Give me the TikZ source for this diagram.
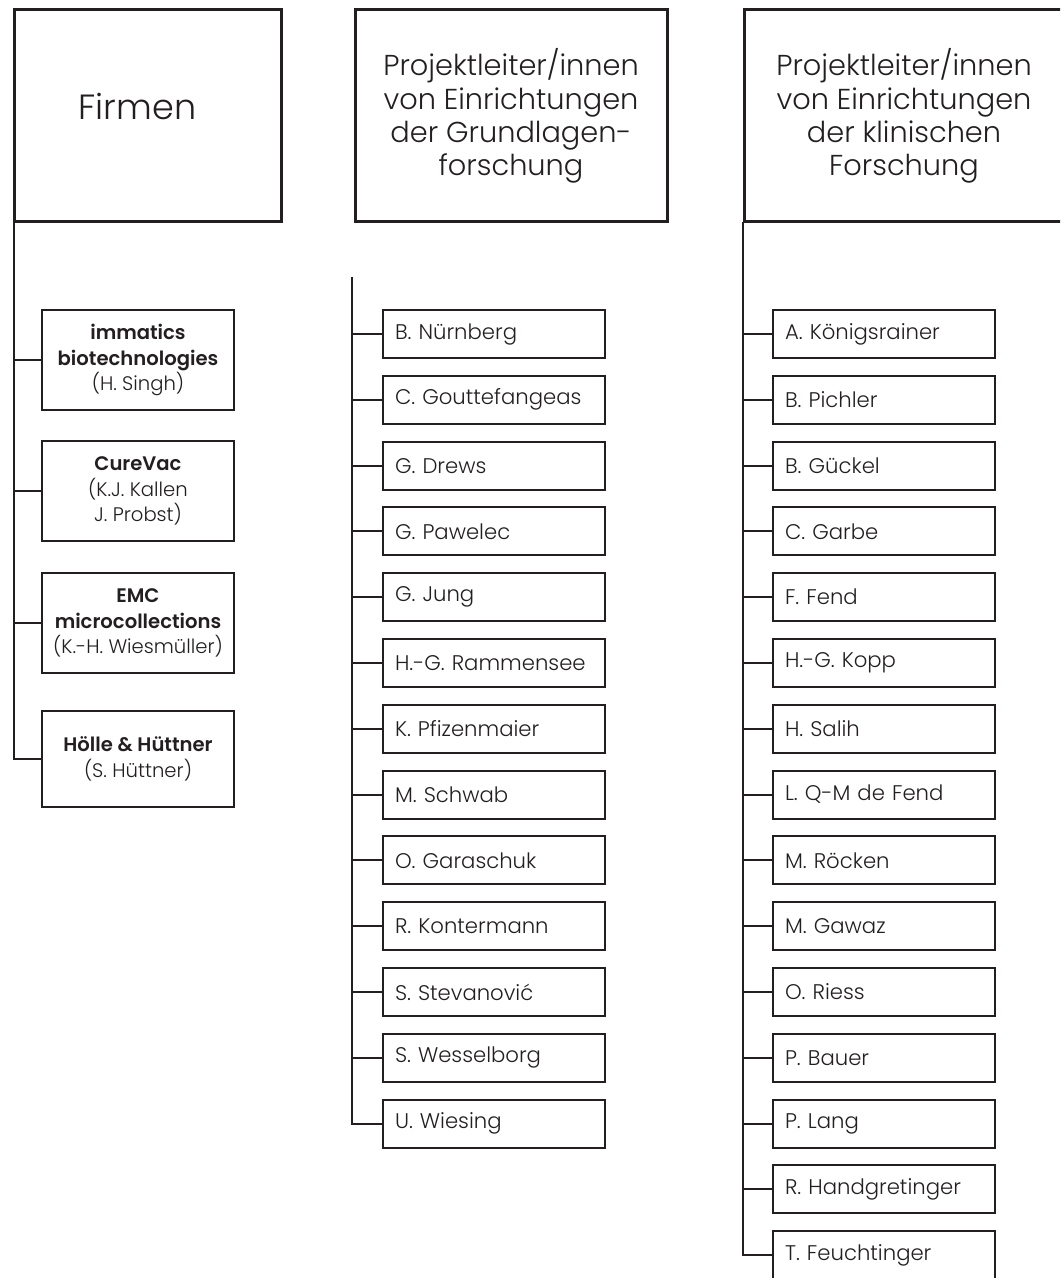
\documentclass[tikz,border=0pt]{standalone}
\usepackage{fontspec}
\setmainfont{Poppins}[UprightFont=* Light,BoldFont=* SemiBold]
\usepackage{xcolor}
\usepackage{tikz}
\usetikzlibrary{positioning}
\definecolor{ink}{HTML}{231F20}

\begin{document}
\begin{tikzpicture}[x=0.5pt,y=-0.5pt,node distance=8.9pt,every node/.style={text=ink,outer sep=0pt}]
  \tikzstyle{head}=[draw=ink,line width=1.5pt,anchor=north west,align=center,minimum height=106pt,inner sep=0pt,font=\fontsize{14.4}{16.6}\selectfont]
  \tikzstyle{firm}=[draw=ink,line width=1pt,align=center,minimum width=96pt,minimum height=50pt,inner sep=0pt,font=\fontsize{9.8}{12.75}\selectfont]
  \tikzstyle{person}=[draw=ink,line width=1pt,minimum width=111pt,minimum height=24pt,text width=99pt,inner xsep=6pt,inner ysep=0pt,align=left,font=\fontsize{10.6}{12}\selectfont]
  \tikzstyle{link}=[draw=ink,line width=1pt]
  \useasboundingbox (0,0) rectangle (1060,1278);
  \clip (0,0) rectangle (1060,1278);
  \fill[white] (0,0) rectangle (1060,1278);

  % headers
  \node[head,minimum width=133.5pt,font=\fontsize{17.5}{20}\selectfont] (firmen) at (14,10) {\raisebox{10pt}{Firmen}\hspace*{10pt}};
  \node[head,minimum width=156pt] (grund) at (355,10) {Projektleiter/innen\\von Einrichtungen\\der Grundlagen-\\forschung};
  \node[head,minimum width=160pt] (klinik) at (744,10) {Projektleiter/innen\\von Einrichtungen\\der klinischen\\Forschung};

  % firms
  \node[firm,anchor=north west] (immatics) at (42,310) {\textbf{immatics}\\\textbf{biotechnologies}\\(H. Singh)};
  \node[firm,below=15.5pt of immatics] (curevac) {\textbf{CureVac}\\(K.J. Kallen\\J. Probst)};
  \node[firm,below=16pt of curevac] (emc) {\textbf{EMC}\\\textbf{microcollections}\\(K.-H. Wiesmüller)};
  \node[firm,below=19pt of emc,minimum height=48pt] (hoelle) {\textbf{Hölle \& Hüttner}\\(S. Hüttner)};
  \draw[link] (firmen.south west) |- (hoelle.west);
  \draw[link] (firmen.south west |- immatics.west) -- (immatics.west);
  \draw[link] (firmen.south west |- curevac.west) -- (curevac.west);
  \draw[link] (firmen.south west |- emc.west) -- (emc.west);

  % basic research
  \coordinate (gtop) at (352,277);
  \node[person,anchor=north west] (nuernberg) at (383,310) {B. Nürnberg};
  \node[person,below=of nuernberg] (gouttefangeas) {C. Gouttefangeas};
  \node[person,below=of gouttefangeas] (drews) {G. Drews};
  \node[person,below=of drews] (pawelec) {G. Pawelec};
  \node[person,below=of pawelec] (jung) {G. Jung};
  \node[person,below=of jung] (rammensee) {H.-G. Rammensee};
  \node[person,below=of rammensee] (pfizenmaier) {K. Pfizenmaier};
  \node[person,below=of pfizenmaier] (schwab) {M. Schwab};
  \node[person,below=of schwab] (garaschuk) {O. Garaschuk};
  \node[person,below=of garaschuk] (kontermann) {R. Kontermann};
  \node[person,below=of kontermann] (stevanovic) {S. Stevanović};
  \node[person,below=of stevanovic] (wesselborg) {S. Wesselborg};
  \node[person,below=of wesselborg] (wiesing) {U. Wiesing};
  \draw[link] (gtop) |- (wiesing.west);
  \draw[link] (gtop |- nuernberg.west) -- (nuernberg.west);
  \draw[link] (gtop |- gouttefangeas.west) -- (gouttefangeas.west);
  \draw[link] (gtop |- drews.west) -- (drews.west);
  \draw[link] (gtop |- pawelec.west) -- (pawelec.west);
  \draw[link] (gtop |- jung.west) -- (jung.west);
  \draw[link] (gtop |- rammensee.west) -- (rammensee.west);
  \draw[link] (gtop |- pfizenmaier.west) -- (pfizenmaier.west);
  \draw[link] (gtop |- schwab.west) -- (schwab.west);
  \draw[link] (gtop |- garaschuk.west) -- (garaschuk.west);
  \draw[link] (gtop |- kontermann.west) -- (kontermann.west);
  \draw[link] (gtop |- stevanovic.west) -- (stevanovic.west);
  \draw[link] (gtop |- wesselborg.west) -- (wesselborg.west);

  % clinical research
  \node[person,anchor=north west,minimum width=110.5pt] (koenigsrainer) at (773,310) {A. Königsrainer};
  \node[person,below=of koenigsrainer] (pichler) {B. Pichler};
  \node[person,below=of pichler] (gueckel) {B. Gückel};
  \node[person,below=of gueckel] (garbe) {C. Garbe};
  \node[person,below=of garbe] (fend) {F. Fend};
  \node[person,below=of fend] (kopp) {H.-G. Kopp};
  \node[person,below=of kopp] (salih) {H. Salih};
  \node[person,below=of salih] (defend) {L. Q-M de Fend};
  \node[person,below=of defend] (roecken) {M. Röcken};
  \node[person,below=of roecken] (gawaz) {M. Gawaz};
  \node[person,below=of gawaz] (riess) {O. Riess};
  \node[person,below=of riess] (bauer) {P. Bauer};
  \node[person,below=of bauer] (lang) {P. Lang};
  \node[person,below=of lang] (handgretinger) {R. Handgretinger};
  \node[person,below=of handgretinger] (feuchtinger) {T. Feuchtinger};
  \draw[link] ([xshift=-0.5pt]klinik.south west) |- (feuchtinger.west);
  \draw[link] ([xshift=-0.5pt]klinik.south west |- koenigsrainer.west) -- (koenigsrainer.west);
  \draw[link] ([xshift=-0.5pt]klinik.south west |- pichler.west) -- (pichler.west);
  \draw[link] ([xshift=-0.5pt]klinik.south west |- gueckel.west) -- (gueckel.west);
  \draw[link] ([xshift=-0.5pt]klinik.south west |- garbe.west) -- (garbe.west);
  \draw[link] ([xshift=-0.5pt]klinik.south west |- fend.west) -- (fend.west);
  \draw[link] ([xshift=-0.5pt]klinik.south west |- kopp.west) -- (kopp.west);
  \draw[link] ([xshift=-0.5pt]klinik.south west |- salih.west) -- (salih.west);
  \draw[link] ([xshift=-0.5pt]klinik.south west |- defend.west) -- (defend.west);
  \draw[link] ([xshift=-0.5pt]klinik.south west |- roecken.west) -- (roecken.west);
  \draw[link] ([xshift=-0.5pt]klinik.south west |- gawaz.west) -- (gawaz.west);
  \draw[link] ([xshift=-0.5pt]klinik.south west |- riess.west) -- (riess.west);
  \draw[link] ([xshift=-0.5pt]klinik.south west |- bauer.west) -- (bauer.west);
  \draw[link] ([xshift=-0.5pt]klinik.south west |- lang.west) -- (lang.west);
  \draw[link] ([xshift=-0.5pt]klinik.south west |- handgretinger.west) -- (handgretinger.west);
\end{tikzpicture}
\end{document}
